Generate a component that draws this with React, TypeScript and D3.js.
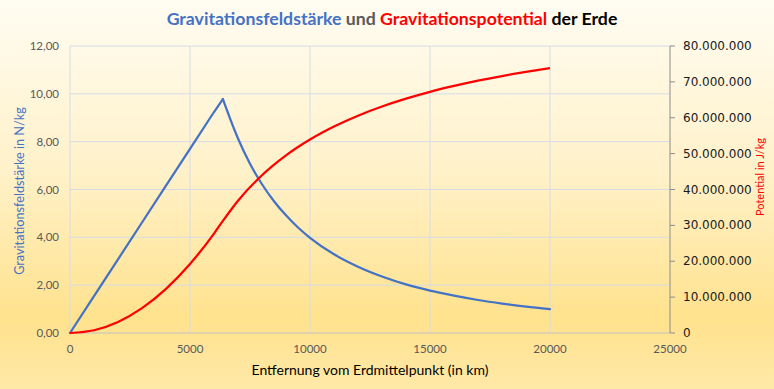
import React from 'react';
import * as d3 from 'd3';

// distance from earth's centre (km) and readings taken from the chart
const fieldKm = [0, 1000, 2000, 3000, 4000, 5000, 6000, 6371, 6500, 7000, 7500, 8000, 8500, 9000, 9500, 10000, 11000, 12000, 13000, 14000, 15000, 16000, 17000, 18000, 19000, 20000];
const fieldValues = [0, 1.54, 3.08, 4.62, 6.16, 7.70, 9.24, 9.78, 9.42, 8.13, 7.08, 6.22, 5.51, 4.92, 4.41, 3.98, 3.29, 2.77, 2.36, 2.03, 1.77, 1.56, 1.38, 1.23, 1.10, 0.995];

const potentialKm = [0, 1000, 2000, 3000, 4000, 5000, 6000, 6371, 7000, 8000, 9000, 10000, 11000, 12000, 13000, 14000, 15000, 16000, 17000, 18000, 19000, 20000];
const potentialValues = [0, 770000, 3080000, 6930000, 12320000, 19250000, 27720000, 31250000, 36870000, 43980000, 49510000, 53930000, 57550000, 60570000, 63120000, 65310000, 67210000, 68860000, 70330000, 71630000, 72790000, 73840000];

const xTicks = [0, 5000, 10000, 15000, 20000, 25000];
const leftTicks = [0, 2, 4, 6, 8, 10, 12];
const rightTicks = [0, 10000000, 20000000, 30000000, 40000000, 50000000, 60000000, 70000000, 80000000];

const W = 774, H = 389;
const calibri = 'Lato, "Open Sans", sans-serif';

export default function App() {
  const x = d3.scaleLinear().domain([0, 25000]).range([70, 670]);
  const yL = d3.scaleLinear().domain([0, 12]).range([333, 46]);
  const yR = d3.scaleLinear().domain([0, 80000000]).range([333, 46]);

  // inside the earth the field grows linearly, outside it falls off smoothly
  const peak = fieldKm.indexOf(6371);
  const pts = fieldKm.map((k, i) => [x(k), yL(fieldValues[i])] as [number, number]);
  const fieldInside = d3.line()(pts.slice(0, peak + 1));
  const fieldOutside = d3.line().curve(d3.curveMonotoneX)(pts.slice(peak));

  const potLine = d3.line<number>()
    .x((d, i) => x(potentialKm[i]))
    .y(d => yR(d))
    .curve(d3.curveMonotoneX);

  const fmtL = (v: number) => v.toFixed(2).replace('.', ',');
  const fmtR = (v: number) => v === 0 ? '0' : d3.format(',')(v).replace(/,/g, '.');

  return (
    <svg width={W} height={H} style={{ position: 'absolute', left: 0, top: 0 }}>
      <defs>
        <linearGradient id="bg" x1="0" y1="0" x2="0" y2="1">
          <stop offset="0" stopColor="#FFFCF2" />
          <stop offset="0.45" stopColor="#FFF1C8" />
          <stop offset="0.82" stopColor="#FFE28D" />
          <stop offset="1" stopColor="#FFE9A8" />
        </linearGradient>
      </defs>
      <rect x={0} y={0} width={W} height={H} fill="url(#bg)" />

      {/* title */}
      <text x={392} y={25} textAnchor="middle" fontFamily={calibri} fontWeight="bold" fontSize={17.7}>
        <tspan fill="#4472C4">Gravitationsfeldstärke</tspan>
        <tspan fill="#595959"> und </tspan>
        <tspan fill="#FF0000">Gravitationspotential</tspan>
        <tspan fill="#000"> der Erde</tspan>
      </text>

      {/* grid */}
      {leftTicks.slice(1).map(t => (
        <line key={'h' + t} x1={70} x2={670} y1={yL(t)} y2={yL(t)} stroke="#D5DCE8" strokeWidth={1} />
      ))}
      {xTicks.slice(0, -1).map(t => (
        <line key={'v' + t} x1={x(t)} x2={x(t)} y1={46} y2={333} stroke="#D5DCE8" strokeWidth={1} />
      ))}
      <line x1={70} x2={670} y1={333} y2={333} stroke="#BFBFBF" strokeWidth={1} />

      {/* right axis */}
      <line x1={670} x2={670} y1={46} y2={333} stroke="#8C8C8C" strokeWidth={1} />
      {rightTicks.map(t => (
        <g key={'r' + t}>
          <line x1={670} x2={675} y1={yR(t)} y2={yR(t)} stroke="#8C8C8C" />
          <text x={683} y={yR(t) + 4} fontFamily="DejaVu Sans" fontSize={12} fill="#1A1A1A">{fmtR(t)}</text>
        </g>
      ))}

      {/* left labels */}
      {leftTicks.map(t => (
        <text key={'l' + t} x={59} y={yL(t) + 4} textAnchor="end" fontFamily={calibri} fontSize={11.5} fill="#595959">{fmtL(t)}</text>
      ))}

      {/* x labels */}
      {xTicks.map(t => (
        <text key={'x' + t} x={x(t)} y={353} textAnchor="middle" fontFamily={calibri} fontSize={11.5} fill="#595959">{t}</text>
      ))}

      {/* axis titles */}
      <text x={370} y={375} textAnchor="middle" fontFamily={calibri} fontSize={14} fill="#000">Entfernung vom Erdmittelpunkt (in km)</text>
      <text transform="translate(24,191) rotate(-90)" textAnchor="middle" fontFamily={calibri} fontSize={12.7} fill="#4472C4">Gravitationsfeldstärke in N/kg</text>
      <text transform="translate(764,177) rotate(-90)" textAnchor="middle" fontFamily={calibri} fontSize={11} fill="#FF0000">Potential in J/kg</text>

      {/* series */}
      <path d={fieldInside || ''} fill="none" stroke="#4472C4" strokeWidth={2.25} strokeLinecap="round" />
      <path d={fieldOutside || ''} fill="none" stroke="#4472C4" strokeWidth={2.25} strokeLinecap="round" />
      <path d={potLine(potentialValues) || ''} fill="none" stroke="#FF0000" strokeWidth={2.25} strokeLinejoin="round" />
    </svg>
  );
}
